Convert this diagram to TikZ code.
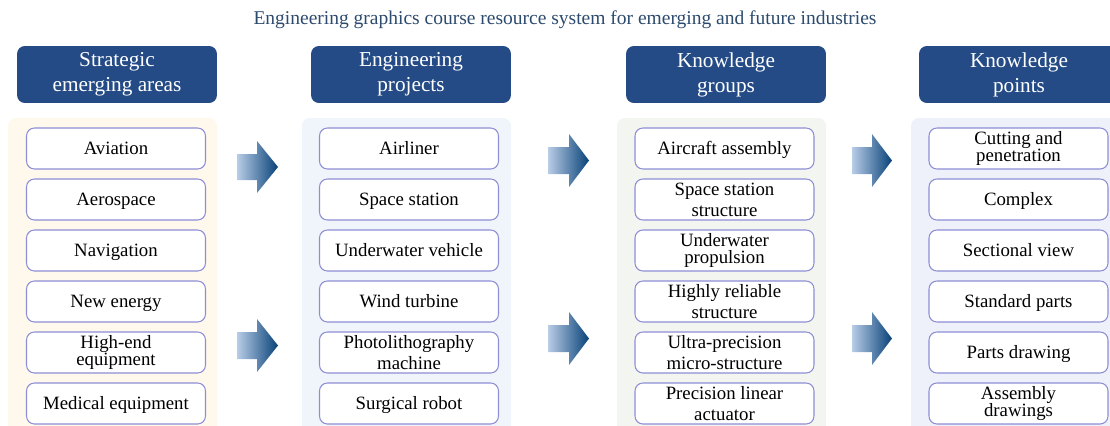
\documentclass[tikz,border=0pt]{standalone}
\usepackage{fontspec}
\setmainfont{Liberation Serif}
\definecolor{hdblue}{RGB}{36,75,134}
\definecolor{titleblue}{RGB}{44,74,110}
\definecolor{boxline}{RGB}{142,142,214}
\definecolor{pnCream}{RGB}{255,249,237}
\definecolor{pnBlue}{RGB}{240,245,251}
\definecolor{pnGreen}{RGB}{243,246,240}
\definecolor{pnLav}{RGB}{238,241,250}
\definecolor{arrLight}{RGB}{184,204,230}
\definecolor{arrDark}{RGB}{8,66,120}
\tikzset{
    itembox/.style={draw=boxline, line width=0.6pt, fill=white, rounded corners=4.5pt,
        minimum width=3.58cm, minimum height=0.82cm, inner sep=1pt, align=center,
        text height=7.2pt, text depth=0pt,
        font=\fontsize{10.7}{9.8}\selectfont},
    itemtight/.style={itembox, text height=, text depth=},
    itemwide/.style={itemtight, font=\fontsize{10.7}{11.9}\selectfont},
    header/.style={fill=hdblue, text=white, rounded corners=4.5pt,
        minimum width=4cm, minimum height=1.14cm, inner sep=1pt, align=center,
        font=\fontsize{12.1}{14.2}\selectfont},
    panel/.style={rounded corners=4.5pt},
    blockarrow/.style={left color=arrLight, right color=arrDark}
}
\begin{document}
\begin{tikzpicture}[x=0.02cm, y=-0.02cm]
        \useasboundingbox (0,0) rectangle (1110,426);
        \clip (0,0) rectangle (1110,426);

        \node[text=titleblue, font=\fontsize{11.1}{13}\selectfont] (title) at (565,20)
            {Engineering graphics course resource system for emerging and future industries};

        \fill[panel, pnCream] (8,118) rectangle (217,450);
        \fill[panel, pnBlue] (302,118) rectangle (511,450);
        \fill[panel, pnGreen] (617,118) rectangle (826,450);
        \fill[panel, pnLav] (911,118) rectangle (1125,450);

        \node[header] (hdArea) at (117,74.5) {Strategic\\emerging areas};
        \node[header] (hdProj) at (411,74.5) {Engineering\\projects};
        \node[header] (hdGroup) at (726,74.5) {Knowledge\\groups};
        \node[header] (hdPoint) at (1019,74.5) {Knowledge\\points};

        \node[itembox] (area1) at (116,148.5) {Aviation};
        \node[itembox] (area2) at (116,199.5) {Aerospace};
        \node[itembox] (area3) at (116,250.5) {Navigation};
        \node[itembox] (area4) at (116,301.5) {New energy};
        \node[itemtight] (area5) at (116,352.5) {High-end\\equipment};
        \node[itembox] (area6) at (116,403.5) {Medical equipment};

        \node[itembox] (proj1) at (409,148.5) {Airliner};
        \node[itembox] (proj2) at (409,199.5) {Space station};
        \node[itembox] (proj3) at (409,250.5) {Underwater vehicle};
        \node[itembox] (proj4) at (409,301.5) {Wind turbine};
        \node[itemwide] (proj5) at (409,352.5) {Photolithography\\machine};
        \node[itembox] (proj6) at (409,403.5) {Surgical robot};

        \node[itembox] (grp1) at (724.5,148.5) {Aircraft assembly};
        \node[itemwide] (grp2) at (724.5,199.5) {Space station\\structure};
        \node[itemtight] (grp3) at (724.5,250.5) {Underwater\\propulsion};
        \node[itemwide] (grp4) at (724.5,301.5) {Highly reliable\\structure};
        \node[itemwide] (grp5) at (724.5,352.5) {Ultra-precision\\micro-structure};
        \node[itemwide] (grp6) at (724.5,403.5) {Precision linear\\actuator};

        \node[itemtight] (pt1) at (1018.5,148.5) {Cutting and\\penetration};
        \node[itembox] (pt2) at (1018.5,199.5) {Complex};
        \node[itembox] (pt3) at (1018.5,250.5) {Sectional view};
        \node[itembox] (pt4) at (1018.5,301.5) {Standard parts};
        \node[itembox] (pt5) at (1018.5,352.5) {Parts drawing};
        \node[itemtight] (pt6) at (1018.5,403.5) {Assembly\\drawings};

        \shade[blockarrow] (237,154) -- ++(20,0) -- ++(0,-13) -- ++(21,26) -- ++(-21,26) -- ++(0,-13) -- ++(-20,0) -- cycle;
        \shade[blockarrow] (237,332) -- ++(20,0) -- ++(0,-13) -- ++(21,26.5) -- ++(-21,26.5) -- ++(0,-13) -- ++(-20,0) -- cycle;
        \shade[blockarrow] (548,147) -- ++(21,0) -- ++(0,-13) -- ++(20,26.5) -- ++(-20,26.5) -- ++(0,-13) -- ++(-21,0) -- cycle;
        \shade[blockarrow] (548,325) -- ++(21,0) -- ++(0,-13) -- ++(20,26.5) -- ++(-20,26.5) -- ++(0,-13) -- ++(-21,0) -- cycle;
        \shade[blockarrow] (852,147) -- ++(20,0) -- ++(0,-13) -- ++(20,26.5) -- ++(-20,26.5) -- ++(0,-13) -- ++(-20,0) -- cycle;
        \shade[blockarrow] (852,325) -- ++(20,0) -- ++(0,-13) -- ++(20,26.5) -- ++(-20,26.5) -- ++(0,-13) -- ++(-20,0) -- cycle;

    \end{tikzpicture}
\end{document}
